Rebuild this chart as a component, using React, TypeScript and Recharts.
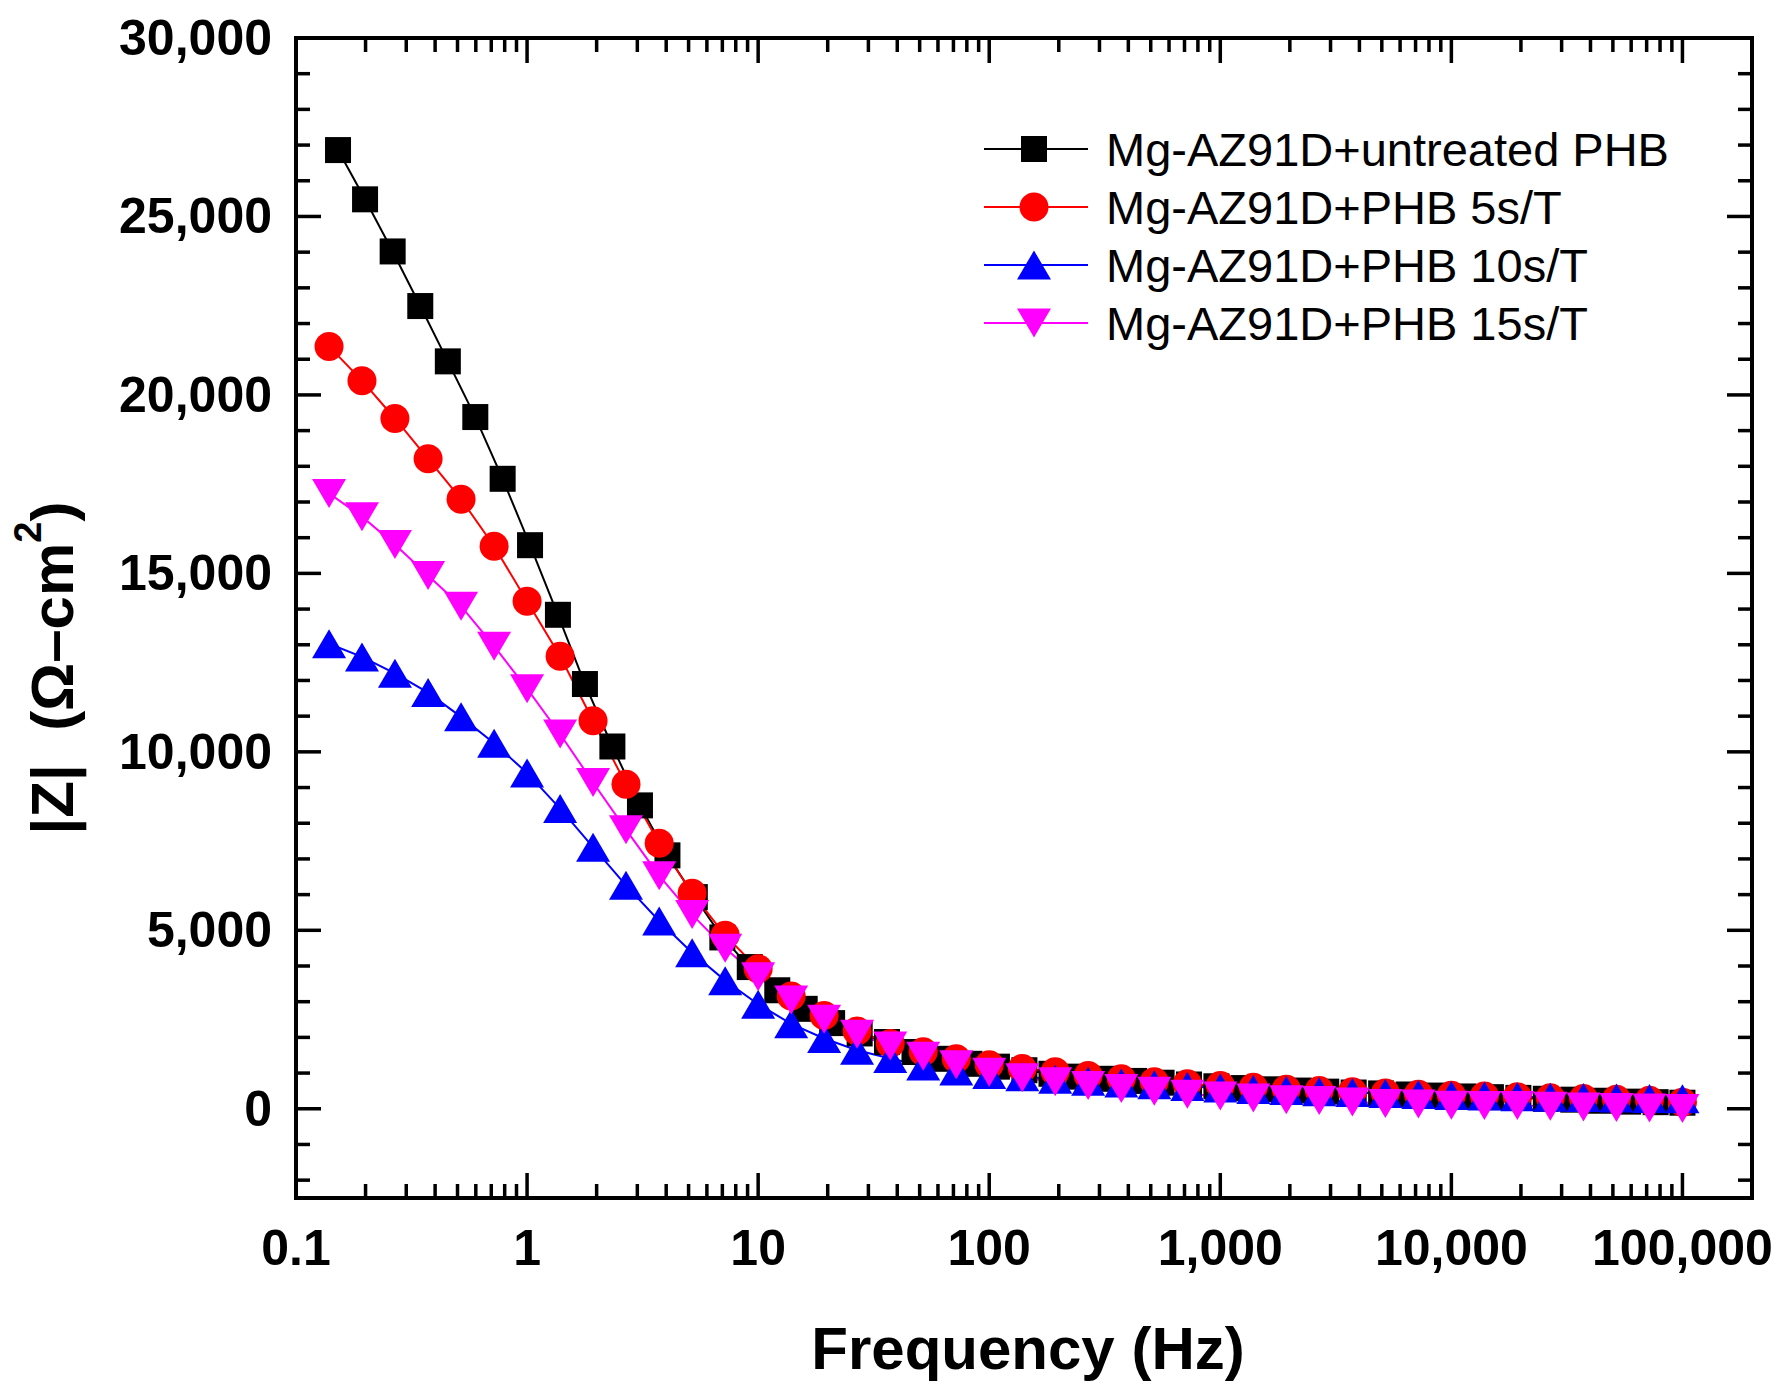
import React from 'react';
import { LineChart, Line, XAxis, YAxis, Legend } from 'recharts';

const FONT = '"Liberation Sans", Arial, Helvetica, sans-serif';

// frequency grids (Hz); the untreated sample was swept on a denser grid
const freqUntreated = [
  0.152, 0.199, 0.262, 0.345, 0.454, 0.597, 0.784, 1.03, 1.36, 1.78,
  2.34, 3.08, 4.05, 5.32, 7.0, 9.2, 12.1, 15.9, 20.9, 27.5,
  36.1, 47.5, 62.4, 82.1, 108, 142, 186, 245, 322, 424,
  557, 732, 962, 1265, 1663, 2186, 2874, 3778, 4966, 6528,
  8582, 11282, 14831, 19497, 25631, 33695, 44296, 58232, 76553, 100000,
];
const freqTreated = [
  0.139, 0.193, 0.268, 0.373, 0.518, 0.72, 1,
  1.39, 1.93, 2.68, 3.73, 5.18, 7.2, 10,
  13.9, 19.3, 26.8, 37.3, 51.8, 72, 100,
  139, 193, 268, 373, 518, 720, 1000,
  1390, 1930, 2680, 3730, 5180, 7200, 10000,
  13900, 19300, 26800, 37300, 51800, 72000, 100000,
];

// |Z| values (ohm-cm2)
const zUntreated = [
  26860, 25480, 24020, 22490, 20940, 19380, 17650, 15790, 13840, 11900,
  10150, 8500, 7100, 5930, 4800, 3970, 3320, 2800, 2400, 2110,
  1870, 1590, 1400, 1260, 1180, 1080, 980, 900, 840, 780,
  730, 680, 630, 580, 545, 510, 480, 455, 430, 400,
  370, 345, 325, 305, 280, 255, 225, 200, 185, 170,
];
const z5s = [
  21360, 20400, 19340, 18210, 17080, 15760, 14220,
  12680, 10870, 9090, 7440, 6040, 4860, 3920,
  3160, 2610, 2180, 1830, 1600, 1400, 1230,
  1130, 1040, 930, 840, 760, 700, 650,
  605, 550, 510, 475, 445, 410, 380,
  360, 340, 310, 285, 265, 240, 180,
];
const z10s = [
  13030, 12660, 12200, 11660, 10980, 10240, 9410,
  8410, 7330, 6260, 5260, 4370, 3590, 2930,
  2380, 1970, 1640, 1410, 1200, 1055, 960,
  900, 830, 770, 720, 670, 625, 580,
  540, 510, 480, 455, 430, 400, 370,
  355, 340, 325, 315, 300, 290, 280,
];
const z15s = [
  17240, 16590, 15810, 14940, 14080, 12960, 11770,
  10500, 9140, 7820, 6530, 5440, 4500, 3700,
  3050, 2510, 2090, 1760, 1470, 1230, 1020,
  870, 760, 650, 565, 490, 410, 360,
  300, 255, 230, 190, 150, 135, 100,
  95, 90, 70, 50, 35, 25, 10,
];

const xMajorTicks = [0.1, 1, 10, 100, 1000, 10000, 100000];
const yMajorTicks = [0, 5000, 10000, 15000, 20000, 25000, 30000];

const xMinorTicks = xMajorTicks.slice(0, -1).flatMap((m) =>
  [2, 3, 4, 5, 6, 7, 8, 9].map((k) => Number((k * m).toPrecision(6)))
);
const yMinorTicks: number[] = [];
for (let v = -2000; v < 30000; v += 1000) if (v % 5000 !== 0) yMinorTicks.push(v);

const xTicks = [...xMajorTicks, ...xMinorTicks];
const yTicks = [...yMajorTicks, ...yMinorTicks];

const toRows = (f: number[], z: number[]) => f.map((v, i) => ({ f: v, z: z[i] }));

const series = [
  { name: 'Mg-AZ91D+untreated PHB', color: '#000000', shape: 'square', data: toRows(freqUntreated, zUntreated) },
  { name: 'Mg-AZ91D+PHB 5s/T', color: '#FF0000', shape: 'circle', data: toRows(freqTreated, z5s) },
  { name: 'Mg-AZ91D+PHB 10s/T', color: '#0000FF', shape: 'up', data: toRows(freqTreated, z10s) },
  { name: 'Mg-AZ91D+PHB 15s/T', color: '#FF00FF', shape: 'down', data: toRows(freqTreated, z15s) },
];

const fmt = (v: number) => v.toLocaleString('en-US');

function marker(shape: string, cx: number, cy: number, color: string, key?: any) {
  if (shape === 'square') return <rect key={key} x={cx - 13} y={cy - 13} width={26} height={26} fill={color} />;
  if (shape === 'circle') return <circle key={key} cx={cx} cy={cy} r={14.5} fill={color} />;
  if (shape === 'up')
    return <polygon key={key} points={`${cx},${cy - 14.5} ${cx - 17},${cy + 14.5} ${cx + 17},${cy + 14.5}`} fill={color} />;
  return <polygon key={key} points={`${cx - 17},${cy - 14.5} ${cx + 17},${cy - 14.5} ${cx},${cy + 14.5}`} fill={color} />;
}

const tickText = { fontFamily: FONT, fontWeight: 'bold' as const, fontSize: 50, fill: '#000' };
const TW = 3.5;

// ticks point into the plot; labels only on the bottom and left axes
const BottomTick = ({ x, y, payload }: any) => {
  const major = xMajorTicks.includes(payload.value);
  return (
    <g>
      <line x1={x} y1={y} x2={x} y2={y - (major ? 25 : 14)} stroke="#000" strokeWidth={TW} />
      {major && (
        <text x={x} y={y + 50} textAnchor="middle" dominantBaseline="central" {...tickText}>
          {fmt(payload.value)}
        </text>
      )}
    </g>
  );
};
const TopTick = ({ x, y, payload }: any) => {
  const major = xMajorTicks.includes(payload.value);
  return <line x1={x} y1={y} x2={x} y2={y + (major ? 25 : 14)} stroke="#000" strokeWidth={TW} />;
};
const LeftTick = ({ x, y, payload }: any) => {
  const major = yMajorTicks.includes(payload.value);
  return (
    <g>
      <line x1={x} y1={y} x2={x + (major ? 25 : 14)} y2={y} stroke="#000" strokeWidth={TW} />
      {major && (
        <text x={x - 24} y={y} textAnchor="end" dominantBaseline="central" {...tickText}>
          {fmt(payload.value)}
        </text>
      )}
    </g>
  );
};
const RightTick = ({ x, y, payload }: any) => {
  const major = yMajorTicks.includes(payload.value);
  return <line x1={x} y1={y} x2={x - (major ? 25 : 14)} y2={y} stroke="#000" strokeWidth={TW} />;
};

const LegendBox = () => (
  <div style={{ fontFamily: FONT, fontSize: 47, color: '#000' }}>
    {series.map((s) => (
      <div key={s.name} style={{ display: 'flex', alignItems: 'center', height: 58 }}>
        <svg width={104} height={40} style={{ overflow: 'visible', flex: 'none' }}>
          <line x1={0} y1={20} x2={104} y2={20} stroke={s.color} strokeWidth={2} />
          {marker(s.shape, 50, 20, s.color)}
        </svg>
        <span style={{ marginLeft: 18, whiteSpace: 'nowrap' }}>{s.name}</span>
      </div>
    ))}
  </div>
);

const axisLine = { stroke: '#000', strokeWidth: 4, strokeLinecap: 'square' as const };

// plot frame: left 296, right 1752, top 38, bottom 1198 (axes are 1px boxes on each side)
export default function App() {
  return (
    <div style={{ position: 'absolute', left: 0, top: 0, width: 1785, height: 1390, background: '#fff' }}>
      <LineChart width={1785} height={1390} margin={{ top: 37, right: 32, bottom: 191, left: 295 }}>
        <XAxis
          xAxisId="b" dataKey="f" type="number" scale="log" domain={[0.1, 200000]} allowDataOverflow
          ticks={xTicks} interval={0} height={1} tickSize={0} tickMargin={0} tickLine={false}
          axisLine={axisLine} tick={<BottomTick />}
        />
        <XAxis
          xAxisId="t" orientation="top" dataKey="f" type="number" scale="log" domain={[0.1, 200000]} allowDataOverflow
          ticks={xTicks} interval={0} height={1} tickSize={0} tickMargin={0} tickLine={false}
          axisLine={axisLine} tick={<TopTick />}
        />
        <YAxis
          yAxisId="l" type="number" domain={[-2500, 30000]} allowDataOverflow
          ticks={yTicks} interval={0} width={1} tickSize={0} tickMargin={0} tickLine={false}
          axisLine={axisLine} tick={<LeftTick />}
        />
        <YAxis
          yAxisId="r" orientation="right" type="number" domain={[-2500, 30000]} allowDataOverflow
          ticks={yTicks} interval={0} width={1} tickSize={0} tickMargin={0} tickLine={false}
          axisLine={axisLine} tick={<RightTick />}
        />
        {series.map((s) => (
          <Line
            key={s.name}
            xAxisId="b"
            yAxisId="l"
            data={s.data}
            dataKey="z"
            name={s.name}
            stroke={s.color}
            strokeWidth={2}
            isAnimationActive={false}
            dot={(p: any) => marker(s.shape, p.cx, p.cy, s.color, `${s.shape}-${p.index}`)}
            activeDot={false}
          />
        ))}
        <Legend
          layout="vertical" align="center" verticalAlign="middle"
          wrapperStyle={{ position: 'absolute', left: 984, top: 120, width: 720 }}
          content={<LegendBox />}
        />
        <text x={1028} y={1369} textAnchor="middle" fontFamily={FONT} fontWeight="bold" fontSize={60} fill="#000">
          Frequency (Hz)
        </text>
        <text
          x={52} y={668} transform="rotate(-90, 52, 668)" textAnchor="middle" dominantBaseline="central"
          fontFamily={FONT} fontWeight="bold" fontSize={60} fill="#000" style={{ whiteSpace: 'pre' }}
        >
          {'|Z|  (Ω–cm'}
          <tspan fontSize={38} dy={-24}>2</tspan>
          <tspan dy={24}>)</tspan>
        </text>
      </LineChart>
    </div>
  );
}
